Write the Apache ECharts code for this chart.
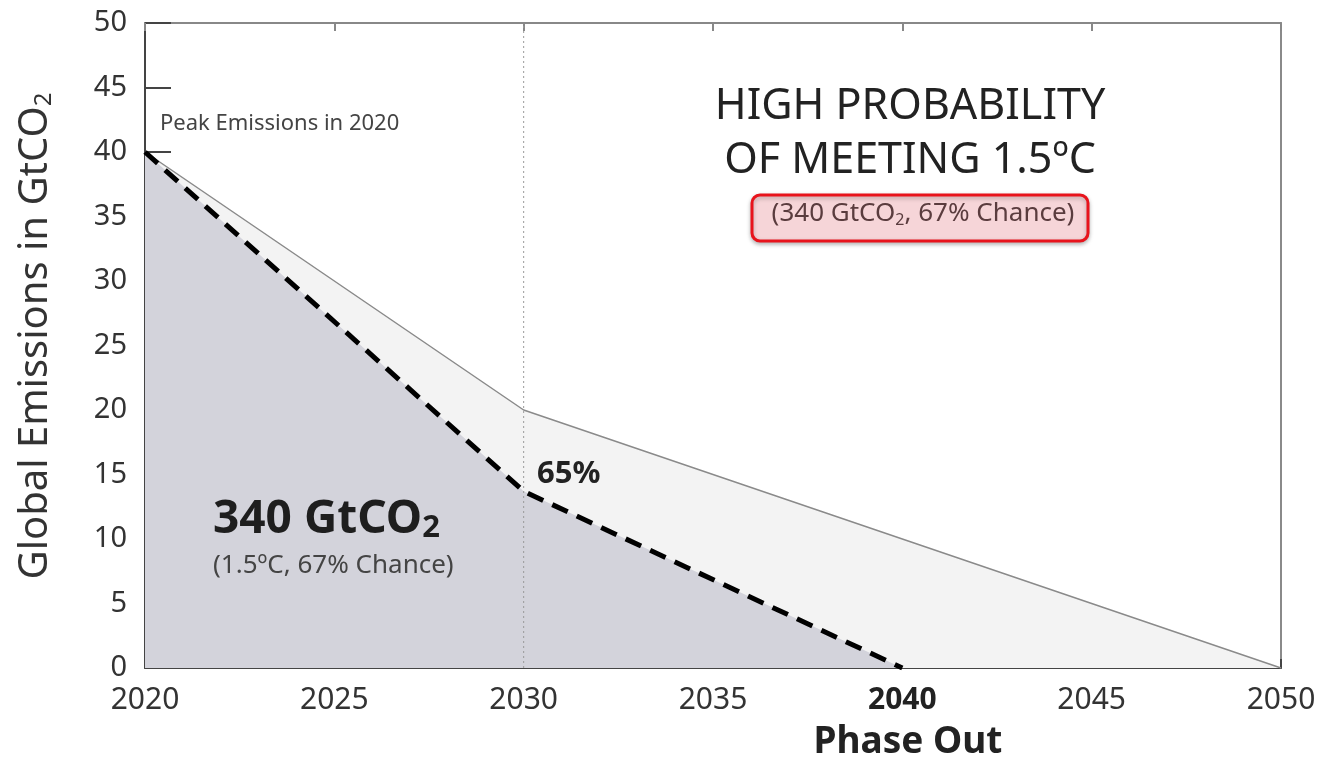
<!DOCTYPE html>
<html><head><meta charset="utf-8">
<script src="https://cdn.jsdelivr.net/npm/echarts@6/dist/echarts.min.js"></script>
<style>html,body{margin:0;padding:0;background:#fff}#c{width:1324px;height:761px}</style>
</head><body><div id="c"></div>
<script>
const years = [2020, 2030, 2050];
const emissions67 = [40, 20, 0];            // outer pathway, 67% chance
const yearsFast = [2020, 2030, 2040];
const emissions65 = [40, 13.7, 0];           // dashed pathway
const xTicks = [2020, 2025, 2030, 2035, 2040, 2045, 2050];
const yTicks = [0, 5, 10, 15, 20, 25, 30, 35, 40, 45, 50];

const outer = years.map((y, i) => [y, emissions67[i]]);
const fast = yearsFast.map((y, i) => [y, emissions65[i]]);
const FONT = '"Noto Sans", "Open Sans", sans-serif';
const chart = echarts.init(document.getElementById('c'), null, {renderer: 'canvas'});

chart.setOption({
  animation: false,
  backgroundColor: '#fff',
  grid: {left: 145, right: 43, top: 23, bottom: 93, containLabel: false},
  xAxis: [{
    type: 'value', min: xTicks[0], max: xTicks[xTicks.length - 1], interval: 5,
    axisLine: {show: true, onZero: false, lineStyle: {color: '#444', width: 2}},
    axisTick: {show: true, inside: true, length: 9, lineStyle: {color: '#444', width: 2}},
    splitLine: {show: false},
    axisLabel: {
      margin: 17, fontFamily: FONT, fontSize: 30, color: '#333',
      formatter: v => v === 2040 ? '{b|' + v + '}' : String(v),
      rich: {b: {fontFamily: FONT, fontSize: 30, fontWeight: 'bold', color: '#222'}}
    }
  }, {
    type: 'value', position: 'top', min: xTicks[0], max: xTicks[xTicks.length - 1], interval: 5,
    axisLine: {show: true, onZero: false, lineStyle: {color: '#888', width: 2}},
    axisTick: {show: true, inside: true, length: 8, lineStyle: {color: '#888', width: 2}},
    axisLabel: {show: false}, splitLine: {show: false}
  }],
  yAxis: [{
    type: 'value', min: yTicks[0], max: yTicks[yTicks.length - 1], interval: 5,
    axisLine: {show: true, onZero: false, lineStyle: {color: '#444', width: 2}},
    axisTick: {show: true, inside: true, length: 26, lineStyle: {color: '#444', width: 2}},
    splitLine: {show: false},
    axisLabel: {margin: 18, fontFamily: FONT, fontSize: 29, color: '#333'}
  }, {
    type: 'value', position: 'right', min: yTicks[0], max: yTicks[yTicks.length - 1], interval: 5,
    axisLine: {show: true, onZero: false, lineStyle: {color: '#8a8a8a', width: 2}},
    axisTick: {show: false}, axisLabel: {show: false}, splitLine: {show: false}
  }],
  series: [{
    type: 'line', data: outer, symbol: 'none', z: 2,
    lineStyle: {color: '#8a8a8a', width: 1.5},
    areaStyle: {color: '#f3f3f3', opacity: 1}
  }, {
    type: 'line', data: fast, symbol: 'none', z: 3,
    lineStyle: {color: '#000', width: 5, type: [17, 10]},
    areaStyle: {color: '#d3d3db', opacity: 1}
  }, {
    type: 'line', data: [[2030, 0], [2030, 50]], symbol: 'none', z: 4, silent: true,
    lineStyle: {color: '#999', type: [2, 3], width: 1}
  }],
  graphic: [
    {type: 'text', left: 160, top: 113, style: {text: 'Peak Emissions in 2020', fontFamily: FONT, fontSize: 22, fill: '#444'}},
    {type: 'text', x: 910, y: 134, style: {text: 'HIGH PROBABILITY\nOF MEETING 1.5ºC', fontFamily: FONT, fontSize: 43, lineHeight: 54, fill: '#222', align: 'center', verticalAlign: 'middle'}},
    {type: 'rect', shape: {x: 752, y: 195, width: 336, height: 46, r: 8},
     style: {fill: '#f6d5d8', stroke: '#e8141c', lineWidth: 3, shadowBlur: 4, shadowColor: 'rgba(0,0,0,0.25)', shadowOffsetY: 2}, z: 10},
    {type: 'text', x: 923, y: 214, z: 11, style: {
      text: '{a|(340 GtCO}{s|2}{a|, 67% Chance)}', align: 'center', verticalAlign: 'middle',
      rich: {a: {fontFamily: FONT, fontSize: 26, fill: '#5a3c3e'}, s: {fontFamily: FONT, fontSize: 16, fill: '#5a3c3e', padding: [12, 0, 0, 0]}}
    }},
    {type: 'text', x: 537, y: 474, z: 12, style: {text: '65%', fontFamily: FONT, fontSize: 31, fontWeight: 'bold', fill: '#222', verticalAlign: 'middle'}},
    {type: 'text', x: 213, y: 520, z: 12, style: {
      text: '{a|340 GtCO}{s|2}', verticalAlign: 'middle',
      rich: {a: {fontFamily: FONT, fontSize: 46, fontWeight: 'bold', fill: '#1e1e1e'}, s: {fontFamily: FONT, fontSize: 31, fontWeight: 'bold', fill: '#1e1e1e', padding: [16, 0, 0, 0]}}
    }},
    {type: 'text', x: 213, y: 566, z: 12, style: {text: '(1.5ºC, 67% Chance)', fontFamily: FONT, fontSize: 26, fill: '#444', verticalAlign: 'middle'}},
    {type: 'text', x: 908, y: 742, z: 12, style: {text: 'Phase Out', fontFamily: FONT, fontSize: 37, fontWeight: 'bold', fill: '#222', align: 'center', verticalAlign: 'middle'}},
    {type: 'text', x: 36, y: 336, rotation: Math.PI / 2, z: 12, style: {
      text: '{a|Global Emissions in GtCO}{s|2}', align: 'center', verticalAlign: 'middle',
      rich: {a: {fontFamily: FONT, fontSize: 40, fill: '#333'}, s: {fontFamily: FONT, fontSize: 24, fill: '#333', padding: [16, 0, 0, 0]}}
    }}
  ]
});
</script></body></html>
